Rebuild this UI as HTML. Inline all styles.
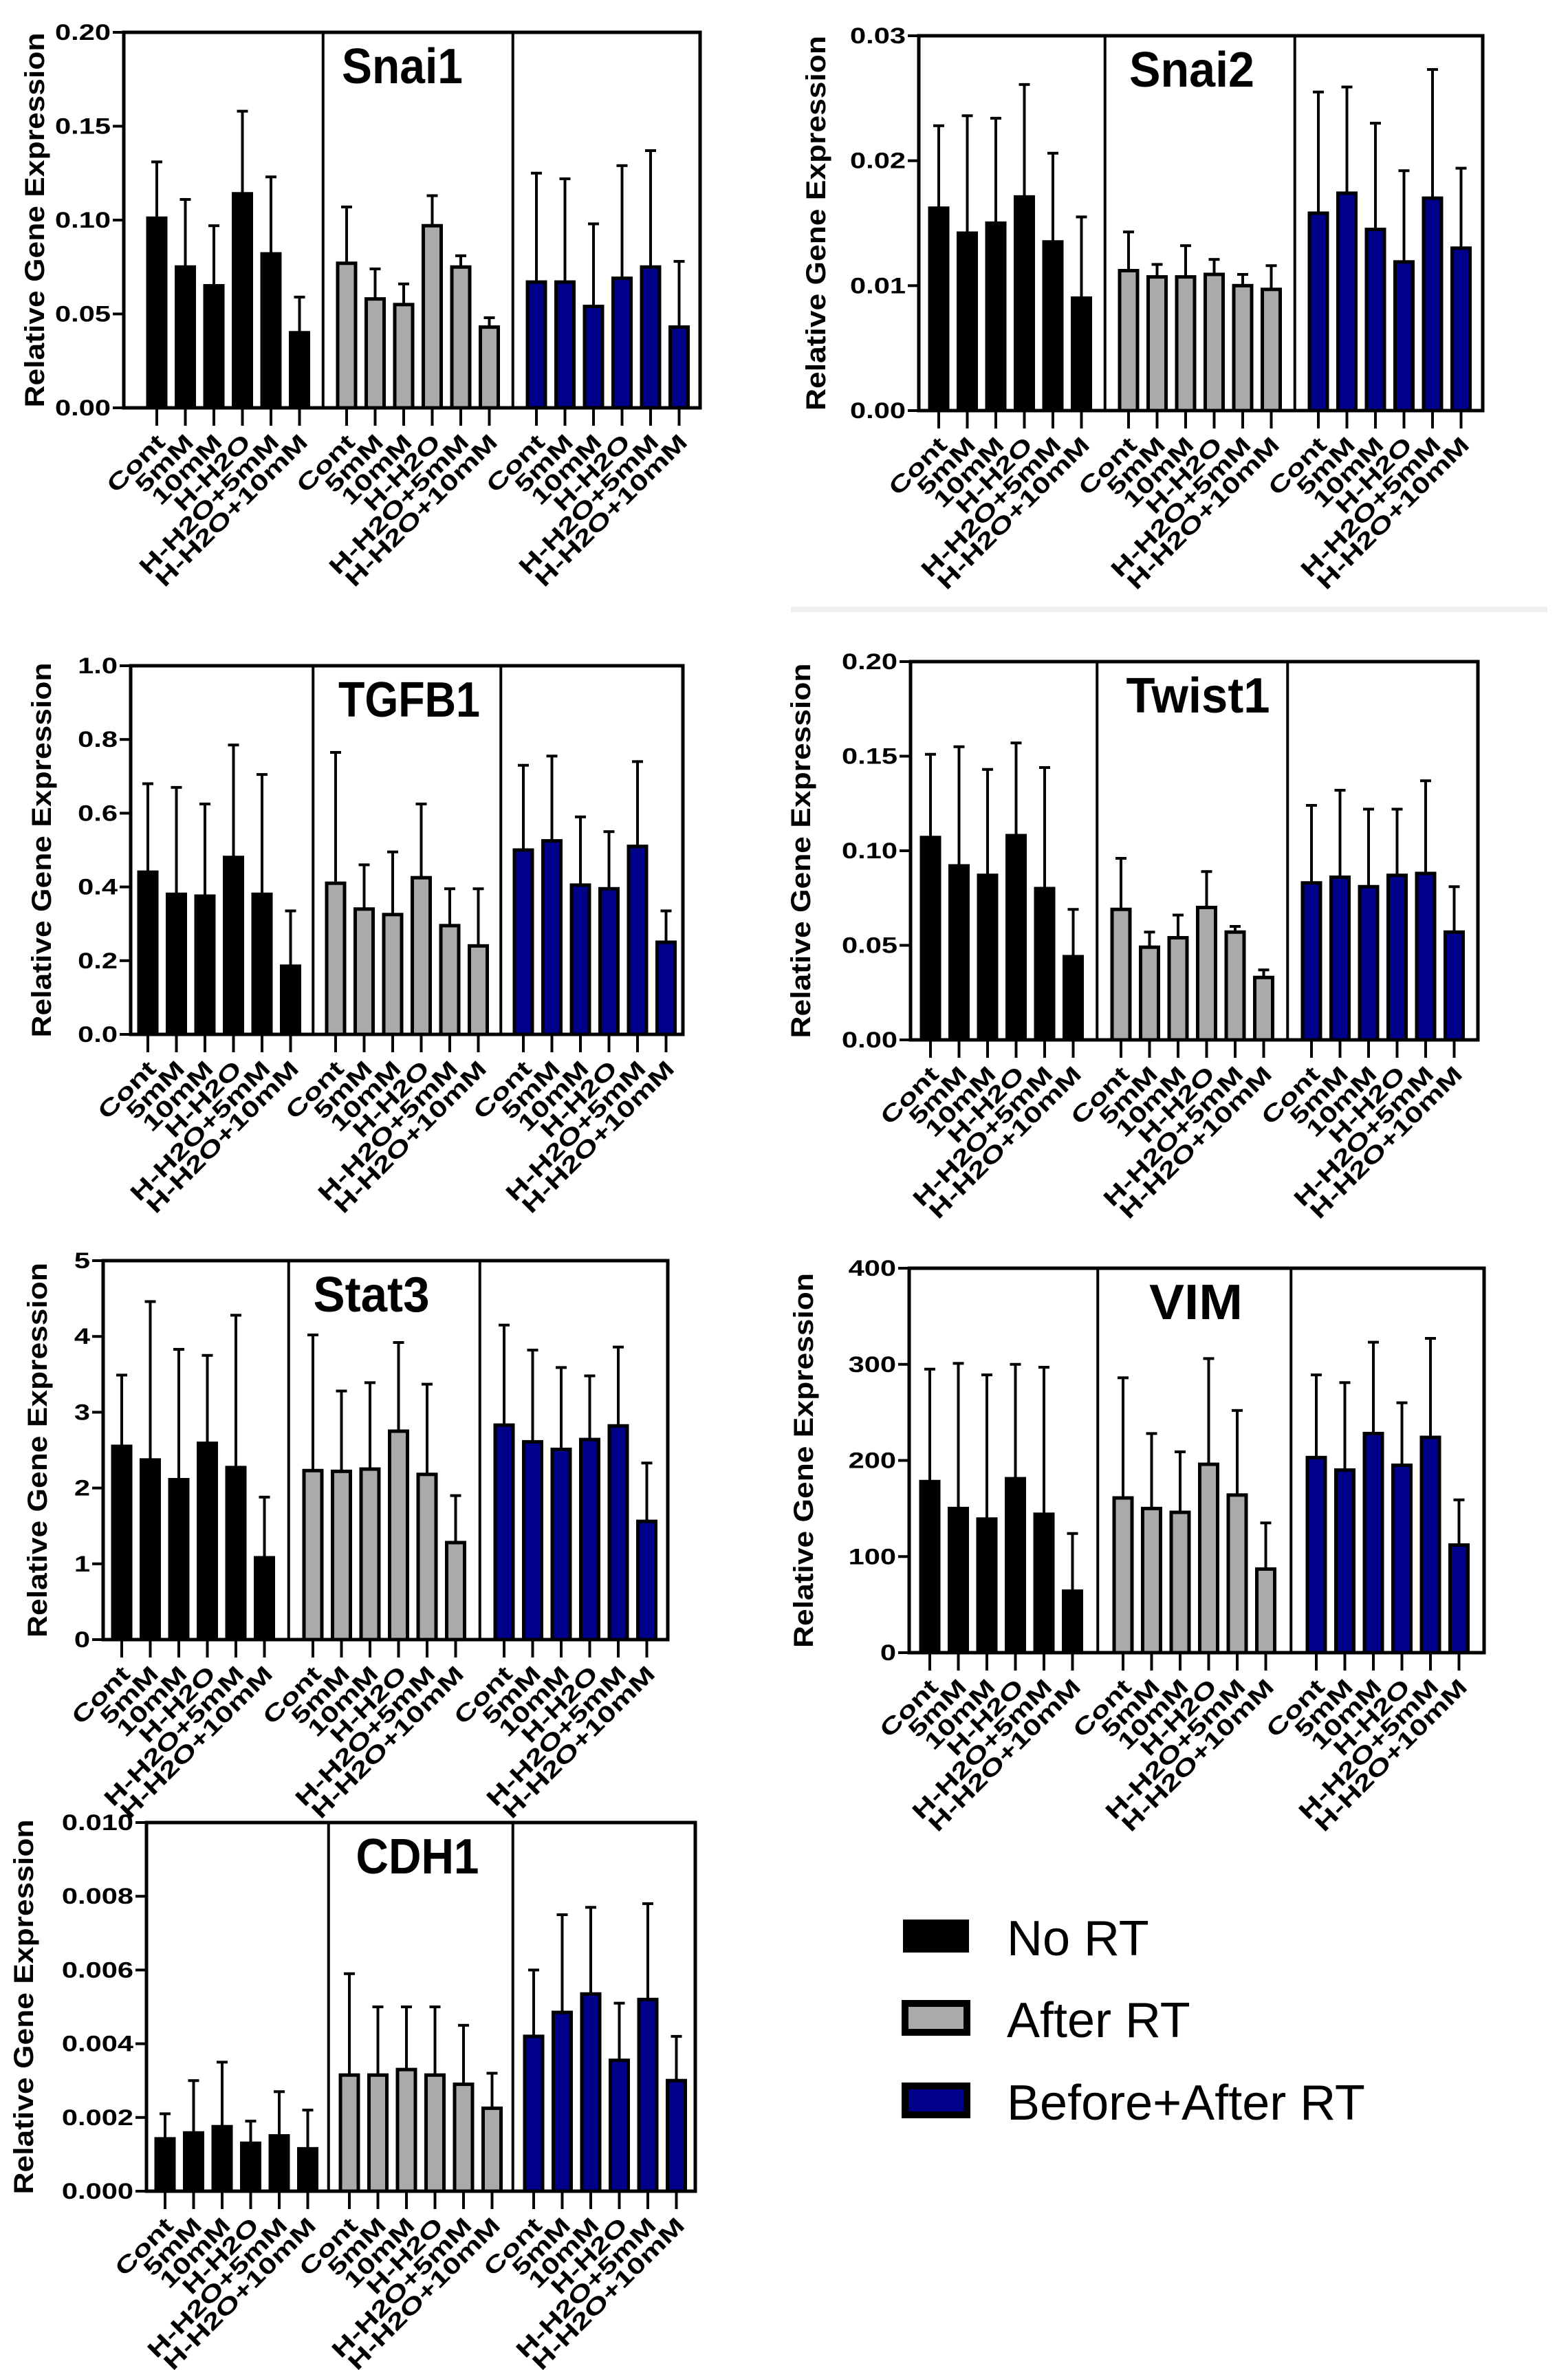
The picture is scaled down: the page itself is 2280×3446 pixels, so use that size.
<!DOCTYPE html>
<html><head><meta charset="utf-8"><style>
html,body{margin:0;padding:0;background:#fff}
svg{display:block}
text{font-family:"Liberation Sans",Arial,sans-serif}
</style></head><body>
<svg id="fig" width="2280" height="3446" viewBox="0 0 2280 3446" xmlns="http://www.w3.org/2000/svg">
<rect x="0" y="0" width="2280" height="3446" fill="#fff"/>
<rect x="1150" y="882" width="1100" height="8" fill="#efefef"/>
<g>
  <g>
    <rect x="1316" y="2794" width="90" height="42" fill="#000" stroke="#000" stroke-width="6"/>
    <text x="1464" y="2843" font-size="72">No RT</text>
  </g>
  <g>
    <rect x="1316" y="2913" width="90" height="42" fill="#aaa" stroke="#000" stroke-width="10"/>
    <text x="1464" y="2962" font-size="72">After RT</text>
  </g>
  <g>
    <rect x="1316" y="3033" width="90" height="42" fill="#00008b" stroke="#000" stroke-width="10"/>
    <text x="1464" y="3082" font-size="72">Before+After RT</text>
  </g>
</g>
</svg>
<script>
const categories = ["Cont","5mM","10mM","H-H2O","H-H2O+5mM","H-H2O+10mM"];
const groups = ["No RT","After RT","Before+After RT"];

const snai1Mean  = [0.101,0.075,0.065,0.114,0.082,0.040, 0.077,0.058,0.055,0.097,0.075,0.043, 0.067,0.067,0.054,0.069,0.075,0.043];
const snai1Upper = [0.131,0.111,0.097,0.158,0.123,0.059, 0.107,0.074,0.066,0.113,0.081,0.048, 0.125,0.122,0.098,0.129,0.137,0.078];
const snai1Ticks = ["0.00","0.05","0.10","0.15","0.20"];

const snai2Mean  = [0.0162,0.0142,0.0150,0.0171,0.0135,0.0090, 0.0112,0.0107,0.0107,0.0109,0.0100,0.0097, 0.0158,0.0174,0.0145,0.0119,0.0170,0.0130];
const snai2Upper = [0.0228,0.0236,0.0234,0.0261,0.0206,0.0155, 0.0143,0.0117,0.0132,0.0121,0.0109,0.0116, 0.0255,0.0259,0.0230,0.0192,0.0273,0.0194];
const snai2Ticks = ["0.00","0.01","0.02","0.03"];

const tgfb1Mean  = [0.44,0.38,0.375,0.48,0.38,0.185, 0.41,0.34,0.325,0.425,0.295,0.24, 0.50,0.525,0.405,0.395,0.51,0.25];
const tgfb1Upper = [0.68,0.67,0.625,0.785,0.705,0.335, 0.765,0.46,0.495,0.625,0.395,0.395, 0.73,0.755,0.59,0.55,0.74,0.335];
const tgfb1Ticks = ["0.0","0.2","0.4","0.6","0.8","1.0"];

const twist1Mean  = [0.107,0.092,0.087,0.108,0.080,0.044, 0.069,0.049,0.054,0.070,0.057,0.033, 0.083,0.086,0.081,0.087,0.088,0.057];
const twist1Upper = [0.151,0.155,0.143,0.157,0.144,0.069, 0.096,0.057,0.066,0.089,0.060,0.037, 0.124,0.132,0.122,0.122,0.137,0.081];
const twist1Ticks = ["0.00","0.05","0.10","0.15","0.20"];

const stat3Mean  = [2.55,2.37,2.11,2.59,2.27,1.08, 2.23,2.22,2.25,2.75,2.18,1.28, 2.83,2.61,2.51,2.64,2.82,1.56];
const stat3Upper = [3.49,4.46,3.83,3.75,4.28,1.88, 4.02,3.28,3.39,3.92,3.37,1.90, 4.15,3.82,3.59,3.48,3.86,2.33];
const stat3Ticks = ["0","1","2","3","4","5"];

const vimMean  = [178,150,139,181,144,64, 161,150,146,196,164,87, 203,190,228,195,224,112];
const vimUpper = [295,301,289,300,297,124, 286,228,209,306,252,135, 289,281,323,260,327,159];
const vimTicks = ["0","100","200","300","400"];

const cdh1Mean  = [0.00142,0.00158,0.00175,0.00130,0.00150,0.00115, 0.00315,0.00315,0.0033,0.00315,0.0029,0.00225, 0.0042,0.00485,0.00535,0.00355,0.0052,0.0030];
const cdh1Upper = [0.0021,0.0030,0.0035,0.0019,0.0027,0.0022, 0.0059,0.0050,0.0050,0.0050,0.0045,0.0032, 0.0060,0.0075,0.0077,0.0051,0.0078,0.0042];
const cdh1Ticks = ["0.000","0.002","0.004","0.006","0.008","0.010"];

const NS = "http://www.w3.org/2000/svg";
const svg = document.getElementById("fig");
const fills = ["#000000","#aaaaaa","#00008b"];

function mk(tag, attrs, parent){
  const e = document.createElementNS(NS, tag);
  for (const k in attrs) e.setAttribute(k, attrs[k]);
  parent.appendChild(e);
  return e;
}

function panel(name, title, mean, upper, ticks, L){
  const g = mk("g", {}, svg);
  
  
  const maxV = parseFloat(ticks[ticks.length-1]);
  const y = v => L.bottom - v / maxV * (L.bottom - L.top);
  const xc = i => L.c0 + Math.floor(i/6) * L.gs + (i%6) * 41.5;

  for (let i = 0; i < mean.length; i++){
    const cx = xc(i);
    const eb = mk("line", {x1:cx, x2:cx, y1:y(upper[i]), y2:y(mean[i]), stroke:"#000", "stroke-width":4}, g);
    
    
    const cap = mk("line", {x1:cx-8, x2:cx+8, y1:y(upper[i]), y2:y(upper[i]), stroke:"#000", "stroke-width":4}, g);
    
    
    const b = mk("rect", {x:cx-13, y:y(mean[i]), width:26, height:L.bottom - y(mean[i]), fill:fills[Math.floor(i/6)], stroke:"#000", "stroke-width":5}, g);
    
    
    const tk = mk("line", {x1:cx, x2:cx, y1:L.bottom, y2:L.bottom+26, stroke:"#000", "stroke-width":4}, g);
    
    
    const t = mk("text", {x:0, y:0, "font-size":33, "font-weight":"bold", "text-anchor":"end",
      transform:"translate(" + (cx+14) + "," + (L.bottom+52) + ") rotate(-45) scale(1.38,1)"}, g);
    t.textContent = categories[i%6];
    
    
  }
  const fr = mk("rect", {x:L.left, y:L.top, width:L.right-L.left, height:L.bottom-L.top, fill:"none", stroke:"#000", "stroke-width":5}, g);
  
  
  for (let k = 1; k < 3; k++){
    const dx = (xc(6*k-1) + xc(6*k)) / 2;
    const d = mk("line", {x1:dx, x2:dx, y1:L.top, y2:L.bottom, stroke:"#000", "stroke-width":4}, g);
    
    
  }
  ticks.forEach(tv => {
    const yy = y(parseFloat(tv));
    const tl = mk("line", {x1:L.left-16, x2:L.left, y1:yy, y2:yy, stroke:"#000", "stroke-width":4}, g);
    
    
    const tt = mk("text", {x:0, y:0, "font-size":32, "font-weight":"bold", "text-anchor":"end",
      transform:"translate(" + (L.left-19) + "," + (yy+11) + ") scale(1.3,1)"}, g);
    tt.textContent = tv;
    
    
  });
  const ym = (L.top + L.bottom) / 2;
  const yt = mk("text", {x:0, y:0, "font-size":40, "font-weight":"bold", "text-anchor":"middle",
    textLength:545, lengthAdjust:"spacingAndGlyphs",
    transform:"translate(" + (L.ytx+2) + "," + ym + ") rotate(-90)"}, g);
  yt.textContent = "Relative Gene Expression";
  
  
  const ti = mk("text", {x:L.tx, y:L.top+74, "font-size":72, "font-weight":"bold", "text-anchor":"middle",
    textLength:L.tw, lengthAdjust:"spacingAndGlyphs"}, g);
  ti.textContent = title;
  
  
}

panel("snai1","Snai1",snai1Mean,snai1Upper,snai1Ticks,{left:180,right:1018,top:47,bottom:593,c0:228,gs:276,tx:585,tw:176,ytx:62});
panel("snai2","Snai2",snai2Mean,snai2Upper,snai2Ticks,{left:1336,right:2156,top:52,bottom:597,c0:1365,gs:276,tx:1733,tw:182,ytx:1198});
panel("tgfb1","TGFB1",tgfb1Mean,tgfb1Upper,tgfb1Ticks,{left:190,right:993,top:968,bottom:1504,c0:215,gs:273,tx:595,tw:206,ytx:72});
panel("twist1","Twist1",twist1Mean,twist1Upper,twist1Ticks,{left:1324,right:2149,top:962,bottom:1512,c0:1353,gs:277,tx:1742,tw:209,ytx:1176});
panel("stat3","Stat3",stat3Mean,stat3Upper,stat3Ticks,{left:150,right:971,top:1833,bottom:2384,c0:177,gs:278,tx:540,tw:169,ytx:66});
panel("vim","VIM",vimMean,vimUpper,vimTicks,{left:1322,right:2158,top:1844,bottom:2403,c0:1352,gs:281,tx:1739,tw:136,ytx:1180});
panel("cdh1","CDH1",cdh1Mean,cdh1Upper,cdh1Ticks,{left:213,right:1011,top:2650,bottom:3186,c0:240,gs:268,tx:607,tw:179,ytx:46});
</script>
</body></html>
